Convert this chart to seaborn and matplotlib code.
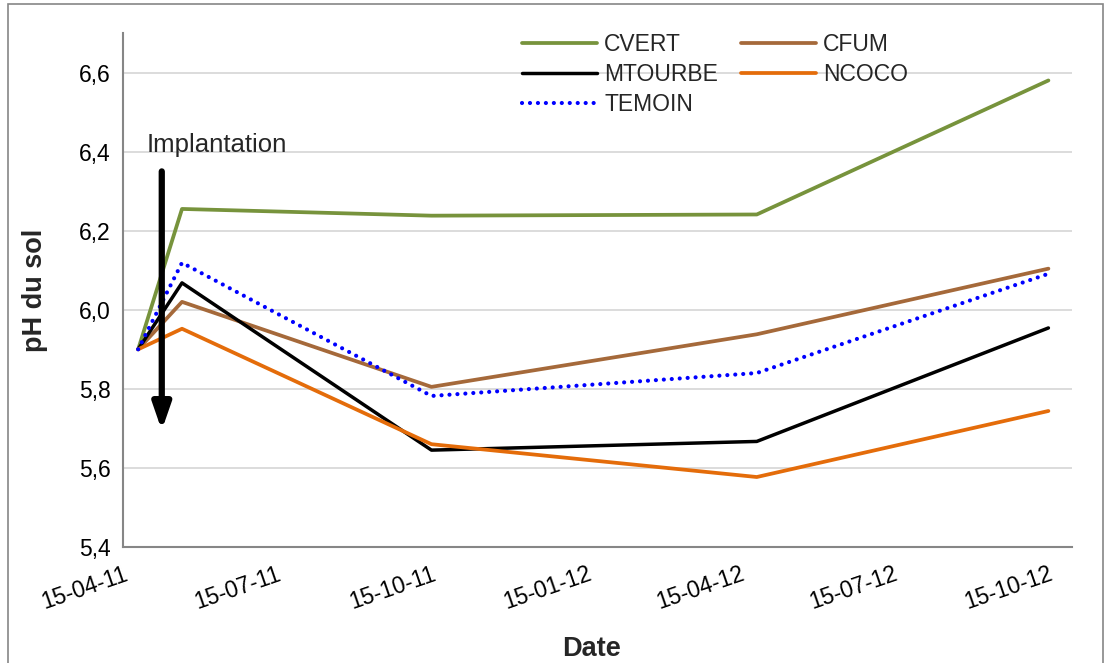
import matplotlib
matplotlib.use("Agg")
import matplotlib.pyplot as plt
import matplotlib.dates as mdates
from matplotlib.ticker import FuncFormatter, MultipleLocator
from matplotlib.patches import Rectangle
import pandas as pd
import seaborn as sns

# Sampling dates
dates = ["2011-04-24", "2011-05-20", "2011-10-15", "2012-04-25", "2012-10-15"]

# Soil pH per treatment
cvert = [5.90, 6.255, 6.238, 6.241, 6.580]
cfum = [5.90, 6.020, 5.805, 5.938, 6.104]
mtourbe = [5.90, 6.068, 5.645, 5.667, 5.954]
ncoco = [5.90, 5.952, 5.660, 5.577, 5.744]
temoin = [5.90, 6.119, 5.782, 5.840, 6.091]

series_names = ["CVERT", "CFUM", "MTOURBE", "NCOCO", "TEMOIN"]
series_values = [cvert, cfum, mtourbe, ncoco, temoin]

tick_dates = ["2011-04-15", "2011-07-15", "2011-10-15", "2012-01-15",
              "2012-04-15", "2012-07-15", "2012-10-15"]

colors = {"CVERT": "#77933C", "CFUM": "#A5693A", "MTOURBE": "#000000",
          "NCOCO": "#E46C0A", "TEMOIN": "#0000FF"}

df = pd.DataFrame({
    "Date": pd.to_datetime(dates * len(series_names)),
    "pH": [v for vals in series_values for v in vals],
    "Traitement": [n for n in series_names for _ in dates],
})

sns.set_theme(style="white")
plt.rcParams["font.family"] = ["Liberation Sans", "DejaVu Sans"]

fig = plt.figure(figsize=(11.10, 6.63), dpi=100)
ax = fig.add_axes([123 / 1110, 1 - 547 / 663, 949 / 1110, (547 - 33) / 663])

for name in series_names:
    sub = df[df["Traitement"] == name]
    if name == "TEMOIN":
        sns.lineplot(data=sub, x="Date", y="pH", ax=ax, color=colors[name],
                     linewidth=3.0, linestyle=(0, (0.01, 1.9)),
                     dash_capstyle="round", label=name)
    else:
        sns.lineplot(data=sub, x="Date", y="pH", ax=ax, color=colors[name],
                     linewidth=2.7 if name != "MTOURBE" else 2.5,
                     label=name, solid_capstyle="round")

ax.set_ylim(5.4, 6.7)
ax.set_xlim(pd.Timestamp("2011-04-15"), pd.Timestamp("2012-10-29"))
ax.yaxis.set_major_locator(MultipleLocator(0.2))
ax.yaxis.set_major_formatter(FuncFormatter(lambda v, p: f"{v:.1f}".replace(".", ",")))
ax.set_xticks([mdates.date2num(pd.Timestamp(d)) for d in tick_dates])
ax.xaxis.set_major_formatter(mdates.DateFormatter("%d-%m-%y"))
for lab in ax.get_xticklabels():
    lab.set_rotation(19)
    lab.set_ha("right")
    lab.set_rotation_mode("anchor")

ax.grid(axis="y", color="#D9D9D9", linewidth=1.3)
ax.set_axisbelow(True)
for side in ["top", "right"]:
    ax.spines[side].set_visible(False)
for side in ["left", "bottom"]:
    ax.spines[side].set_color("#868686")
    ax.spines[side].set_linewidth(1.5)
ax.tick_params(axis="both", which="major", direction="out", length=6,
               width=1.2, color="#868686", labelsize=16.5, labelcolor="#000000")
ax.tick_params(axis="x", pad=5)
ax.tick_params(axis="y", pad=3)

ax.set_xlabel("Date", fontsize=19.5, fontweight="bold", va="center")
ax.set_ylabel("pH du sol", fontsize=19.5, fontweight="bold", va="center")
ax.xaxis.set_label_coords(0.494, (547 - 649) / 514)
ax.yaxis.set_label_coords((35 - 123) / 949, 0.5)

handles, labels = ax.get_legend_handles_labels()
lookup = dict(zip(labels, handles))
order = ["CVERT", "MTOURBE", "TEMOIN", "CFUM", "NCOCO"]
ax.legend([lookup[k] for k in order], order, loc="upper left",
          bbox_to_anchor=(0.42, 1.0), ncol=2, frameon=False,
          fontsize=16.5, handlelength=3.3, handletextpad=0.3,
          columnspacing=1.0, labelspacing=0.3, borderpad=0.0,
          borderaxespad=0.0)

# Planting date marker
ax.annotate("", xy=(pd.Timestamp("2011-05-08"), 5.695),
            xytext=(pd.Timestamp("2011-05-08"), 6.35),
            arrowprops=dict(arrowstyle="-|>,head_width=0.45,head_length=1.3",
                            color="black", linewidth=4.5, shrinkA=0, shrinkB=0))
ax.text(pd.Timestamp("2011-04-29"), 6.40, "Implantation", fontsize=18.5,
        ha="left", va="baseline")

fig.patches.append(Rectangle((8 / 1110, -0.02), 1095 / 1110, 1.02 - 4 / 663,
                             transform=fig.transFigure, fill=False,
                             edgecolor="#868686", linewidth=1.2))

fig.savefig("out.png", dpi=100, facecolor="white")
